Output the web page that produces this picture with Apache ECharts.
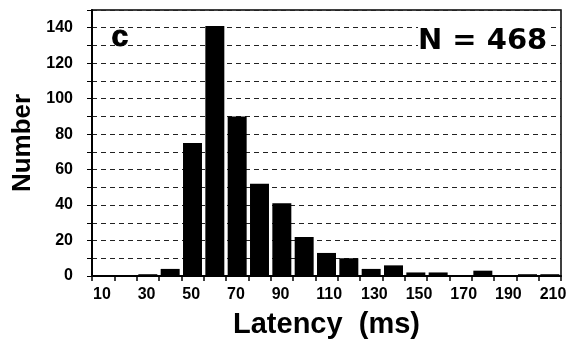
<!DOCTYPE html>
<html>
<head>
<meta charset="utf-8">
<script src="https://cdn.jsdelivr.net/npm/echarts@6/dist/echarts.min.js"></script>
<style>
html,body{margin:0;padding:0;background:#fff;}
#c{width:566px;height:341px;}
</style>
</head>
<body>
<div id="c"></div>
<script>
// Bin starts (ms), each bin is 10 ms wide
const categories = [10,20,30,40,50,60,70,80,90,100,110,120,130,140,150,160,170,180,190,200,210];
// Number of responses in each bin (sum = 468)
const counts = [0,0,1,4,75,141,90,52,41,22,13,10,4,6,2,2,0,3,0,1,1];
const xTickLabels = ['10','30','50','70','90','110','130','150','170','190','210'];
const yTickLabels = ['0','20','40','60','80','100','120','140'];
const panelLabel = 'c';
const nLabel = 'N = 468';

const FONT = '"Liberation Sans", Arial, sans-serif';
const chart = echarts.init(document.getElementById('c'), null, {renderer: 'canvas'});
chart.setOption({
  animation: false,
  backgroundColor: '#fff',
  grid: {left: 92, right: 5, top: 10, bottom: 65, show: true, borderColor: '#000', borderWidth: 1.5,
         containLabel: false, outerBoundsMode: 'none'},
  xAxis: [{
    type: 'category',
    data: categories.map(String),
    boundaryGap: true,
    axisLine: {show: true, lineStyle: {color: '#000', width: 2}},
    axisTick: {show: false},
    axisLabel: {show: false},
    splitLine: {show: false}
  }, {
    type: 'value',
    position: 'bottom',
    min: 10, max: 220, interval: 10,
    axisLine: {show: false},
    axisTick: {show: true, length: 5, lineStyle: {color: '#000', width: 1.5}},
    axisLabel: {
      margin: 11, align: 'left', padding: [0, 0, 0, 1],
      color: '#000', fontFamily: FONT, fontWeight: 'bold', fontSize: 16,
      formatter: v => xTickLabels.includes(String(v)) ? String(v) : ''
    },
    splitLine: {show: false},
    name: 'Latency  (ms)',
    nameLocation: 'middle',
    nameGap: 34,
    nameTextStyle: {color: '#000', fontFamily: FONT, fontWeight: 'bold', fontSize: 29}
  }],
  yAxis: {
    type: 'value',
    min: 0, max: 150, interval: 10,
    axisLine: {show: true, lineStyle: {color: '#000', width: 2}},
    axisTick: {show: true, length: 5, lineStyle: {color: '#000', width: 1}},
    axisLabel: {
      margin: 19, color: '#000', fontFamily: FONT, fontWeight: 'bold', fontSize: 16,
      formatter: v => yTickLabels.includes(String(v)) ? String(v) : ''
    },
    splitLine: {show: true, lineStyle: {color: '#222', width: 1, type: [5, 4]}},
    name: 'Number',
    nameLocation: 'middle',
    nameGap: 46,
    nameTextStyle: {color: '#000', fontFamily: FONT, fontWeight: 'bold', fontSize: 26, padding: [0, 0, 10, 0]}
  },
  series: [{
    type: 'bar',
    xAxisIndex: 0,
    data: counts,
    barCategoryGap: '15%',
    itemStyle: {color: '#000'},
    z: 3
  }],
  graphic: [
    {type: 'text', left: 111, top: 22, z: 10,
     style: {text: panelLabel, fill: '#000', font: '900 30px ' + FONT, stroke: '#000', lineWidth: 1}},
    {type: 'text', left: 418, top: 27, z: 10,
     style: {text: nLabel, fill: '#000', font: 'bold 29px "DejaVu Sans", sans-serif', backgroundColor: '#fff'}}
  ]
});
</script>
</body>
</html>
